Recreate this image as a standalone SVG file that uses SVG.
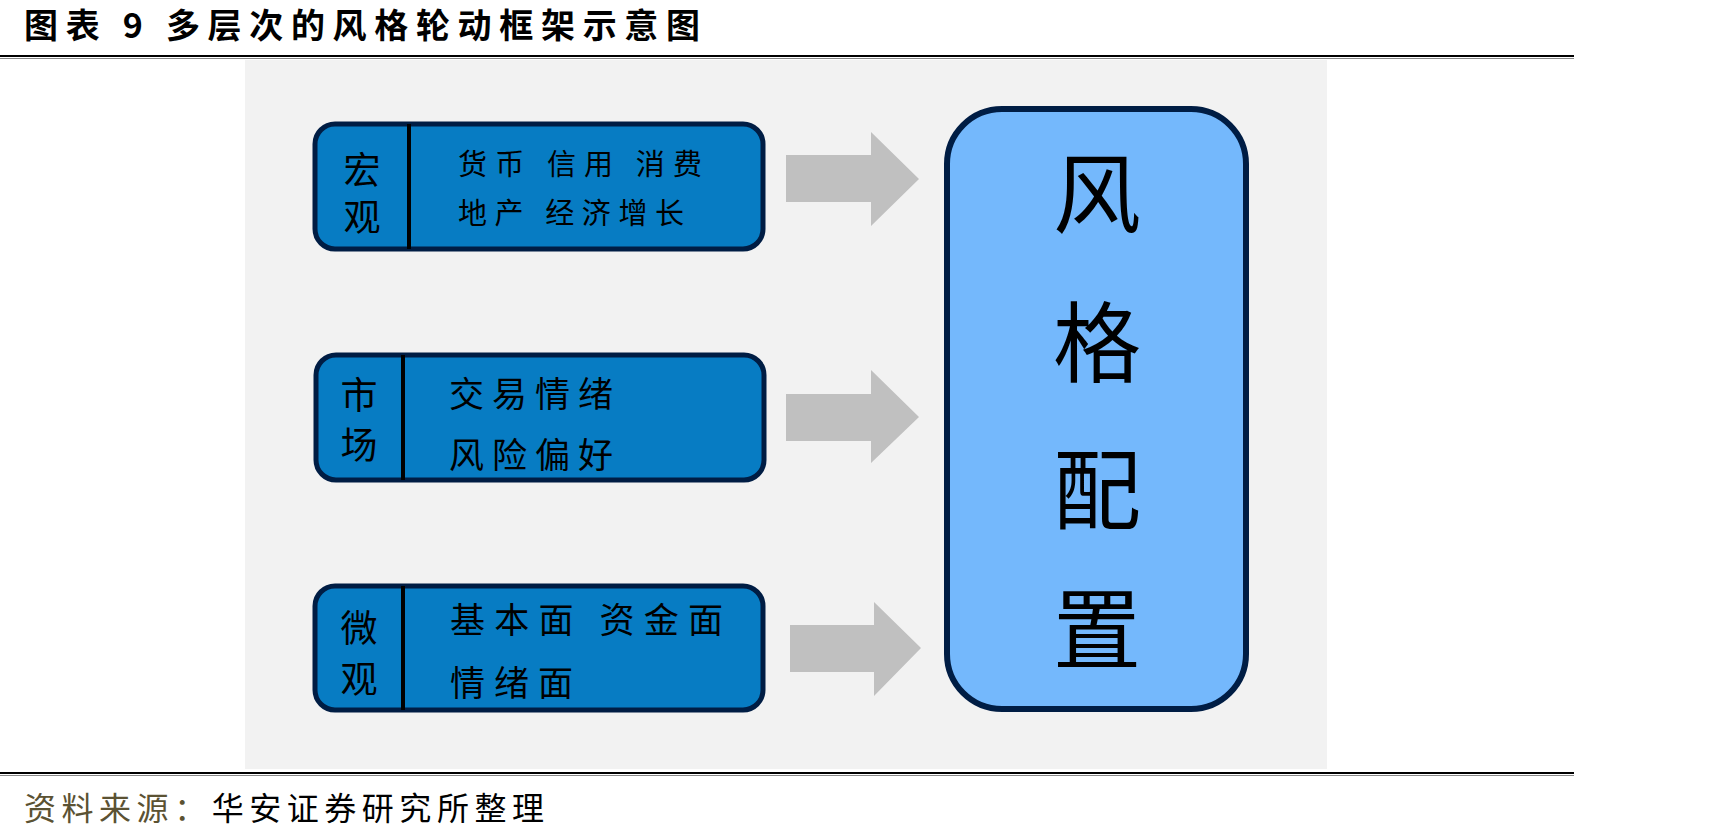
<svg xmlns="http://www.w3.org/2000/svg" width="1729" height="840" viewBox="0 0 1729 840">
<style>
  text { font-family: "Noto Sans CJK SC", "Noto Sans", sans-serif; fill: #000; }
  .title { font-size: 34px; font-weight: bold; }
  .foot { font-size: 32px; }
  .lbl { font-size: 37px; text-anchor: middle; dominant-baseline: central; }
  .item { font-size: 29px; dominant-baseline: central; }
  .item2 { font-size: 35px; dominant-baseline: central; }
  .big { font-size: 88px; text-anchor: middle; dominant-baseline: central; }
  .box { fill: #077cc3; stroke: #001d44; stroke-width: 5; }
  .div { stroke: #000; stroke-width: 4; }
  .arrow { fill: #c0c0c0; }
</style>
<rect x="0" y="0" width="1729" height="840" fill="#fff"/>
<text class="title" x="24" y="38" textLength="676" lengthAdjust="spacing">图表 9  多层次的风格轮动框架示意图</text>
<line x1="0" y1="56" x2="1574" y2="56" stroke="#000" stroke-width="2"/>
<line x1="0" y1="58.5" x2="1574" y2="58.5" stroke="#888" stroke-width="1"/>
<rect x="245" y="60" width="1082" height="709" fill="#f2f2f2"/>

<g id="macro">
  <rect class="box" x="315" y="124" width="448" height="125" rx="20"/>
  <line class="div" x1="409" y1="124" x2="409" y2="249"/>
  <text class="lbl" x="362" y="168">宏</text>
  <text class="lbl" x="362" y="215">观</text>
  <text class="item" x="458" y="162" textLength="244" lengthAdjust="spacing">货币 信用 消费</text>
  <text class="item" x="458" y="211" textLength="226" lengthAdjust="spacing">地产 经济增长</text>
</g>

<g id="market">
  <rect class="box" x="316" y="355" width="448" height="125" rx="20"/>
  <line class="div" x1="403" y1="355" x2="403" y2="480"/>
  <text class="lbl" x="359" y="393">市</text>
  <text class="lbl" x="359" y="443">场</text>
  <text class="item2" x="449" y="391" textLength="164" lengthAdjust="spacing">交易情绪</text>
  <text class="item2" x="449" y="452" textLength="164" lengthAdjust="spacing">风险偏好</text>
</g>

<g id="micro">
  <rect class="box" x="315" y="586" width="448" height="124" rx="20"/>
  <line class="div" x1="403" y1="586" x2="403" y2="710"/>
  <text class="lbl" x="359" y="626">微</text>
  <text class="lbl" x="359" y="677">观</text>
  <text class="item2" x="450" y="617" textLength="273" lengthAdjust="spacing">基本面 资金面</text>
  <text class="item2" x="450" y="680" textLength="123" lengthAdjust="spacing">情绪面</text>
</g>

<g id="style">
  <rect x="947" y="109" width="299" height="600" rx="55" fill="#74b8fc" stroke="#001d44" stroke-width="6"/>
  <text class="big" x="1097" y="187">风</text>
  <text class="big" x="1097" y="336">格</text>
  <text class="big" x="1097" y="483">配</text>
  <text class="big" x="1097" y="623">置</text>
</g>

<g id="connectors">
  <polygon class="arrow" points="786,155 871,155 871,132 919,179 871,226 871,202 786,202"/>
  <polygon class="arrow" points="786,394 871,394 871,370 919,417 871,463 871,441 786,441"/>
  <polygon class="arrow" points="790,625 874,625 874,602 921,648 874,696 874,672 790,672"/>
</g>

<line x1="0" y1="773" x2="1574" y2="773" stroke="#000" stroke-width="2"/>
<line x1="0" y1="775.5" x2="1574" y2="775.5" stroke="#888" stroke-width="1"/>
<text class="foot" x="24" y="820" textLength="520" lengthAdjust="spacing"><tspan fill="#5b5233">资料来源：</tspan>华安证券研究所整理</text>
</svg>
